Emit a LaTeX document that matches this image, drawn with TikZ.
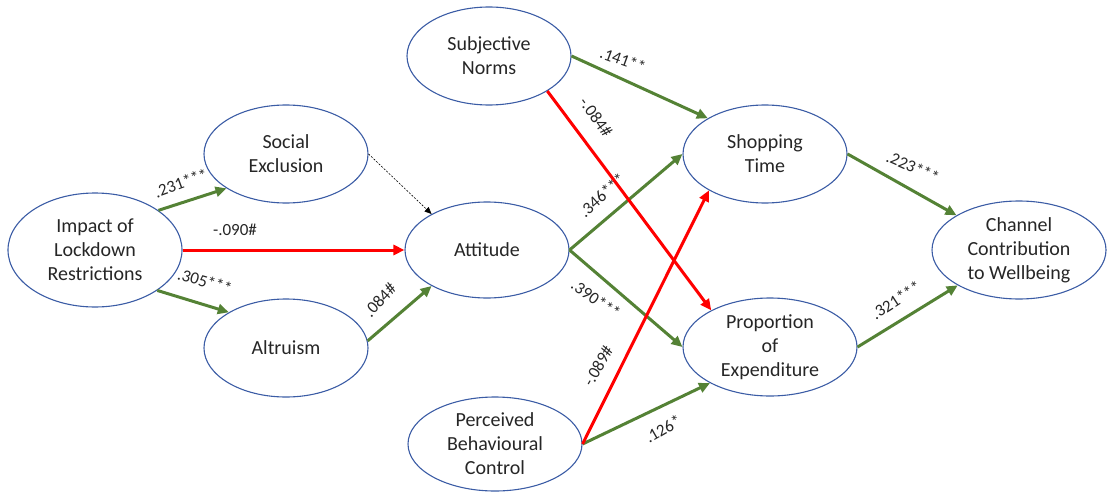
\documentclass[tikz,border=0pt]{standalone}
\usepackage{fontspec}
\setmainfont{Carlito}
\usetikzlibrary{shapes.geometric,arrows.meta}
\definecolor{eblue}{RGB}{59,92,165}
\definecolor{pgreen}{RGB}{84,130,53}
\definecolor{pred}{RGB}{255,0,0}
\begin{document}
\begin{tikzpicture}[x=1pt,y=-1pt,
 var/.style={ellipse,draw=eblue,line width=1.1pt,inner sep=0pt,align=center,font=\fontsize{20}{24}\selectfont,text=black!85},
 posarrow/.style={draw=pgreen,line width=3pt,-{Triangle[length=11pt,width=10pt]}},
 negarrow/.style={draw=pred,line width=3pt,-{Triangle[length=11pt,width=10pt]}},
 dotarrow/.style={draw=black,line width=0.6pt,dash pattern=on 2pt off 1.5pt,-{Triangle[length=7pt,width=6pt]}},
 lab/.style={font=\fontsize{17}{20}\selectfont,inner sep=1pt,text=black!85}]
\useasboundingbox (0,0) rectangle (1107,492);
% variables
\node[var,minimum width=174pt,minimum height=114pt] (impact) at (95,250) {Impact of\\Lockdown\\Restrictions};
\node[var,minimum width=164pt,minimum height=98pt] (social) at (286,154) {Social\\Exclusion};
\node[var,minimum width=164pt,minimum height=98pt] (altru) at (286,348) {Altruism};
\node[var,minimum width=164pt,minimum height=96pt] (att) at (487,250) {Attitude};
\node[var,minimum width=164pt,minimum height=98pt] (sn) at (489,56) {Subjective\\Norms};
\node[var,minimum width=174pt,minimum height=94pt] (pbc) at (495,444) {Perceived\\Behavioural\\Control};
\node[var,minimum width=164pt,minimum height=98pt] (shop) at (765,154) {Shopping\\Time};
\node[var,minimum width=174pt,minimum height=98pt] (prop) at (770,347) {Proportion\\of\\Expenditure};
\node[var,minimum width=174pt,minimum height=98pt] (chan) at (1019,250) {Channel\\Contribution\\to Wellbeing};
% positive paths
\draw[posarrow] (impact.32) -- (social.210);
\draw[posarrow] (impact.327) -- (altru.148);
\draw[posarrow] (altru.5) -- (att.213);
\draw[posarrow] (sn.east) -- (shop.148);
\draw[posarrow] (att.east) -- (shop.west);
\draw[posarrow] (att.east) -- (prop.west);
\draw[posarrow] (pbc.east) -- (prop.211);
\draw[posarrow] (shop.east) -- (chan.151);
\draw[posarrow] (prop.east) -- (chan.210);
% negative paths
\draw[negarrow] (impact.east) -- (att.west);
\draw[negarrow] (sn.329) -- (prop.148);
\draw[negarrow] (pbc.east) -- (shop.213);
% non-significant
\draw[dotarrow] (social.east) -- (att.147);
% labels
\node[lab,rotate=20] (l1) at (181,183) {.231***};
\node[lab] (l2) at (235,230) {-.090\#};
\node[lab,rotate=-16] (l3) at (205,281) {.305***};
\node[lab,rotate=47] (l4) at (380,300) {.084\#};
\node[lab,rotate=-20] (l5) at (623,60) {.141**};
\node[lab,rotate=-54] (l6) at (596,117) {-.084\#};
\node[lab,rotate=42] (l7) at (602,195) {.346***};
\node[lab,rotate=-35] (l8) at (596,299) {.390***};
\node[lab,rotate=60] (l9) at (598,366) {-.089\#};
\node[lab,rotate=30] (l10) at (663,429) {.126*};
\node[lab,rotate=-24] (l11) at (913,167) {.223***};
\node[lab,rotate=33] (l12) at (896,300) {.321***};
\end{tikzpicture}
\end{document}
